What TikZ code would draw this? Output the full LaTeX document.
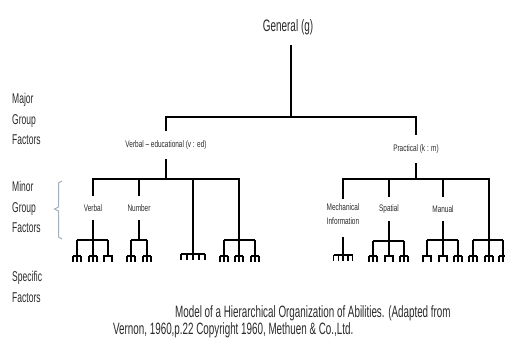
\documentclass[tikz,border=0pt]{standalone}
\usepackage{fontspec}
\setmainfont{Liberation Sans}[FakeStretch=0.68]
\newfontfamily\tallfont{Liberation Sans}[FakeStretch=0.6]
\definecolor{ink}{HTML}{2A2A2A}
\definecolor{bracecol}{HTML}{A3AEBB}
\begin{document}
\begin{tikzpicture}[x=1pt,y=-1pt,
  txt/.style={text=ink, inner sep=0pt},
  bar/.style={line width=2.2pt, line cap=rect},
  stem/.style={line width=1.4pt},
  twig/.style={line width=1.5pt},
  side/.style={txt, anchor=west, align=left, font=\tallfont\fontsize{14.2}{20.6}\selectfont},
  small/.style={txt, font=\fontsize{9.5}{13.5}\selectfont},
  caption/.style={txt, anchor=west, font=\tallfont\fontsize{16.4}{17}\selectfont},
  mfork/.pic={\draw[twig] (-4,0) -- (4,0) (-4,0) -- (-4,6) (0,0) -- (0,6) (4,0) -- (4,6);},
  nfork/.pic={\draw[twig] (-4,6) -- (-4,0) -- (4,0) -- (4,6);},
  comb/.pic={\draw[twig] (-#1,0) -- (#1,0);
    \foreach \k in {-1,-0.5,0,0.5,1} \draw[twig] ({\k*#1},0) -- ({\k*#1},6);}
]
\useasboundingbox (0,0) rectangle (505,345);
\clip (0,0) rectangle (505,345);

% ---- level labels on the left
\node[side] (major) at (12,119) {Major\\Group\\Factors};
\node[side] (minor) at (12,207) {Minor\\Group\\Factors};
\node[side] (spec)  at (12,287) {Specific\\Factors};
\draw[bracecol, line width=1pt] (62,181) -- (58.5,183) -- (58.5,207) -- (54.5,209)
  -- (58.5,211) -- (58.5,237) -- (62,239);

% ---- general factor and major group factors
\node[txt, minimum height=36pt] (g) at (288,27) {\tallfont\fontsize{16.6}{18}\selectfont General (g)};
\coordinate (j0) at (291,117);
\coordinate (mL) at (166,117);
\coordinate (mR) at (416,117);
\draw[stem] (g.south -| j0) -- (j0);
\draw[bar] (mL) -- (mR);

\node[small, minimum height=28pt] (ve) at (166,145) {Verbal -- educational (v : ed)};
\node[small, minimum height=28pt] (pr) at (416,149) {Practical (k : m)};
\draw[stem] (mL) -- (ve.north);
\draw[stem] (mR) -- (pr.north);

% ---- minor group factors, left branch
\coordinate (vb) at (166,179);
\coordinate (l1) at (93,179);
\coordinate (l2) at (139,179);
\coordinate (l3) at (193,179);
\coordinate (l4) at (239,179);
\draw[stem] (ve.south) -- (vb);
\draw[bar] (l1) -- (l4);
\node[small, minimum height=24pt] (verbal) at (93,208) {Verbal};
\node[small, minimum height=24pt] (number) at (139,208) {Number};
\draw[stem] (l1) -- (verbal.north);
\draw[stem] (l2) -- (number.north);

% ---- minor group factors, right branch
\coordinate (pb) at (416,179);
\coordinate (r1) at (343,179);
\coordinate (r2) at (389,179);
\coordinate (r3) at (443,179);
\coordinate (r4) at (489,179);
\draw[stem] (pr.south) -- (pb);
\draw[bar] (r1) -- (r4);
\node[small, align=center, minimum height=30pt] (mech) at (343,214) {Mechanical\\Information};
\node[small, minimum height=24pt] (spatial) at (389,209) {Spatial};
\node[small, minimum height=24pt] (manual) at (443,209) {Manual};
\draw[stem] (r1) -- (mech.north);
\draw[stem] (r2) -- (spatial.north);
\draw[stem] (r3) -- (manual.north);

% ---- specific factors
% under Verbal
\coordinate (a0) at (93,240);
\draw[stem] (verbal.south) -- (a0);
\draw[twig] (77,240) -- (108,240);
\foreach \x in {77,93,108} \draw[twig] (\x,240) -- (\x,256);
\foreach \x in {77,93} \pic at (\x,256) {mfork};
\pic at (108,256) {nfork};

% under Number
\coordinate (b0) at (139,240);
\draw[stem] (number.south) -- (b0);
\draw[twig] (131,240) -- (147,240);
\foreach \x in {131,147} {\draw[twig] (\x,240) -- (\x,256); \pic at (\x,256) {mfork};}

% third column: a single comb
\coordinate (c0) at (193,254);
\draw[stem] (l3) -- (c0);
\pic at (c0) {comb=12};

% fourth column
\coordinate (d0) at (239,240);
\draw[stem] (l4) -- (d0);
\draw[twig] (224,240) -- (255,240);
\foreach \x in {224,239,255} {\draw[twig] (\x,240) -- (\x,256); \pic at (\x,256) {mfork};}

% under Mechanical Information
\coordinate (e0) at (343,255);
\draw[stem] ([yshift=-8pt]mech.south) -- (e0);
\pic at (e0) {comb=9.5};

% under Spatial
\coordinate (f0) at (389,241);
\draw[stem] (spatial.south) -- (f0);
\draw[twig] (373,241) -- (404,241);
\foreach \x in {373,389,404} \draw[twig] (\x,241) -- (\x,256);
\foreach \x in {373,404} \pic at (\x,256) {mfork};
\pic at (389,256) {nfork};

% under Manual
\coordinate (h0) at (443,240);
\draw[stem] (manual.south) -- (h0);
\draw[twig] (427,240) -- (458,240);
\foreach \x in {427,443,458} \draw[twig] (\x,240) -- (\x,256);
\foreach \x in {427,443} \pic at (\x,256) {nfork};
\pic at (458,256) {mfork};

% last column on the right
\coordinate (k0) at (489,240);
\draw[stem] (r4) -- (k0);
\draw[twig] (473,240) -- (503,240);
\foreach \x in {473,489,503} {\draw[twig] (\x,240) -- (\x,256); \pic at (\x,256) {mfork};}

% ---- caption
\node[caption] (cap1) at (175,313)
  {Model of a Hierarchical Organization of Abilities. (Adapted from};
\node[caption] (cap2) at (113,330)
  {Vernon, 1960,p.22 Copyright 1960, Methuen \& Co.,Ltd.};
\end{tikzpicture}
\end{document}
